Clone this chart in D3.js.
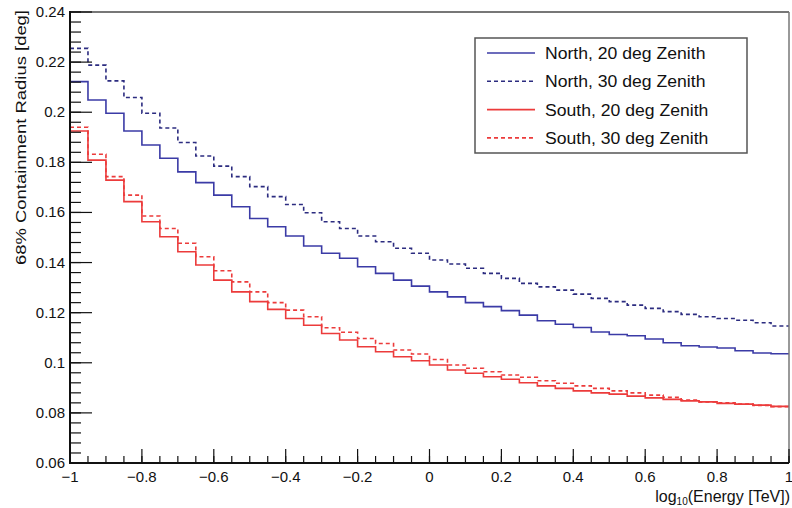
<!DOCTYPE html>
<html>
<head>
<meta charset="utf-8">
<script src="https://cdn.jsdelivr.net/npm/d3@7/dist/d3.min.js"></script>
<style>
  body { margin: 0; background: #fff; }
  text { font-family: "Liberation Sans", Arial, Helvetica, sans-serif; fill: #111; }
</style>
</head>
<body>
<div id="chart"></div>
<script>
const WIDTH = 792
const HEIGHT = 508
const MARGINS = {left: 70, right: 3, top: 12, bottom: 45}

// histogram bins: 40 bins of log10(E/TeV) from -1 to 1
const binLow = d3.range(40).map((i) => -1 + i * 0.05)
const binHigh = 1

const north20 = [0.2122, 0.2049, 0.1996, 0.1925, 0.1869, 0.1816, 0.1762, 0.1719, 0.1669, 0.1623,
                 0.1576, 0.1543, 0.1506, 0.1466, 0.1437, 0.1417, 0.1383, 0.1357, 0.1330, 0.1306,
                 0.1283, 0.1263, 0.1240, 0.1224, 0.1208, 0.1190, 0.1168, 0.1154, 0.1141, 0.1123,
                 0.1113, 0.1108, 0.1095, 0.1080, 0.1068, 0.1063, 0.1059, 0.1048, 0.1039, 0.1036]
const north30 = [0.2255, 0.2188, 0.2125, 0.2059, 0.1996, 0.1937, 0.1879, 0.1825, 0.1785, 0.1743,
                 0.1703, 0.1663, 0.1632, 0.1599, 0.1563, 0.1536, 0.1506, 0.1483, 0.1457, 0.1437,
                 0.1410, 0.1394, 0.1377, 0.1357, 0.1337, 0.1317, 0.1303, 0.1290, 0.1274, 0.1257,
                 0.1244, 0.1230, 0.1217, 0.1204, 0.1193, 0.1184, 0.1177, 0.1170, 0.1160, 0.1147]
const south20 = [0.1925, 0.1809, 0.1729, 0.1643, 0.1563, 0.1503, 0.1443, 0.1390, 0.1330, 0.1283,
                 0.1244, 0.1213, 0.1177, 0.1150, 0.1117, 0.1091, 0.1064, 0.1044, 0.1024, 0.1008,
                 0.0991, 0.0971, 0.0958, 0.0944, 0.0934, 0.0920, 0.0908, 0.0898, 0.0888, 0.0880,
                 0.0875, 0.0867, 0.0860, 0.0854, 0.0848, 0.0844, 0.0838, 0.0835, 0.0831, 0.0826]
const south30 = [0.1940, 0.1832, 0.1743, 0.1669, 0.1586, 0.1536, 0.1477, 0.1423, 0.1367, 0.1323,
                 0.1283, 0.1240, 0.1210, 0.1184, 0.1140, 0.1122, 0.1097, 0.1077, 0.1051, 0.1035,
                 0.1013, 0.0991, 0.0978, 0.0964, 0.0951, 0.0942, 0.0928, 0.0918, 0.0908, 0.0898,
                 0.0888, 0.0880, 0.0871, 0.0862, 0.0851, 0.0844, 0.0840, 0.0835, 0.0830, 0.0825]

const seriesNames = ["North, 20 deg Zenith", "North, 30 deg Zenith", "South, 20 deg Zenith", "South, 30 deg Zenith"]
const seriesColors = ["#3b3ba6", "#2c2c80", "#ec3b3b", "#ec3b3b"]
const seriesDash = [null, "4,3", null, "4,3"]

const xTicks = [-1, -0.8, -0.6, -0.4, -0.2, 0, 0.2, 0.4, 0.6, 0.8, 1]
const yTicks = [0.06, 0.08, 0.1, 0.12, 0.14, 0.16, 0.18, 0.2, 0.22, 0.24]
const yTitle = "68% Containment Radius [deg]"

/*********************************************
// Scales
*********************************************/
const x = d3.scaleLinear().domain([-1, 1]).range([MARGINS.left, WIDTH - MARGINS.right])
const y = d3.scaleLinear().domain([0.06, 0.24]).range([HEIGHT - MARGINS.bottom, MARGINS.top])
const fmt = d3.format("~g")

const svg = d3.select("#chart")
  .append("svg")
  .attr("width", WIDTH)
  .attr("height", HEIGHT)

svg.append("rect").attr("width", WIDTH).attr("height", HEIGHT).attr("fill", "#fff")

/*********************************************
// Histograms
*********************************************/
function drawHist(values, i) {
  const pts = binLow.map((lo, k) => [lo, values[k]])
  pts.push([binHigh, values[values.length - 1]])
  const line = d3.line()
    .x((d) => x(d[0]))
    .y((d) => y(d[1]))
    .curve(d3.curveStepAfter)
  svg.append("path")
    .attr("d", line(pts))
    .attr("fill", "none")
    .attr("stroke", seriesColors[i])
    .attr("stroke-width", 1.6)
    .attr("stroke-dasharray", seriesDash[i])
}

;[north20, north30, south20, south30].forEach(drawHist)

/*********************************************
// Frame and axes (ROOT style, ticks inside)
*********************************************/
const x0 = x(-1), x1 = x(1), y0 = y(0.06), y1 = y(0.24)

svg.append("line").attr("x1", x0).attr("x2", x1).attr("y1", y1).attr("y2", y1)
  .attr("stroke", "#777").attr("stroke-width", 2)
svg.append("line").attr("x1", x1).attr("x2", x1).attr("y1", y1).attr("y2", y0)
  .attr("stroke", "#777").attr("stroke-width", 1.5)

const axes = svg.append("g").attr("stroke", "#111")

// y ticks
const yMinor = d3.range(0, 46).map((i) => 0.06 + i * 0.004)
axes.selectAll("line.ymin")
  .data(yMinor).enter()
  .append("line")
  .attr("x1", x0).attr("x2", x0 + 11)
  .attr("y1", y).attr("y2", y)
  .attr("stroke-width", 1.2)
axes.selectAll("line.ymaj")
  .data(yTicks).enter()
  .append("line")
  .attr("x1", x0).attr("x2", x0 + 22)
  .attr("y1", y).attr("y2", y)
  .attr("stroke-width", 1.2)

// x ticks
const xMinor = d3.range(0, 41).map((i) => -1 + i * 0.05)
axes.selectAll("line.xmin")
  .data(xMinor).enter()
  .append("line")
  .attr("x1", x).attr("x2", x)
  .attr("y1", y0).attr("y2", y0 - 7)
  .attr("stroke-width", 1.2)
axes.selectAll("line.xmaj")
  .data(xTicks).enter()
  .append("line")
  .attr("x1", x).attr("x2", x)
  .attr("y1", y0).attr("y2", y0 - 14)
  .attr("stroke-width", 1.2)

axes.append("line").attr("x1", x0).attr("x2", x0).attr("y1", y1 - 1).attr("y2", y0 + 1).attr("stroke-width", 2)
axes.append("line").attr("x1", x0 - 1).attr("x2", x1).attr("y1", y0).attr("y2", y0).attr("stroke-width", 2)

// tick labels
svg.selectAll("text.ylab")
  .data(yTicks).enter()
  .append("text")
  .attr("x", x0 - 5)
  .attr("y", (d) => y(d) + 5)
  .attr("text-anchor", "end")
  .attr("font-size", 15)
  .text(fmt)

svg.selectAll("text.xlab")
  .data(xTicks).enter()
  .append("text")
  .attr("x", x)
  .attr("y", y0 + 19)
  .attr("text-anchor", "middle")
  .attr("font-size", 15)
  .text(fmt)

// titles
svg.append("text")
  .attr("transform", `translate(26,${y1 - 2}) rotate(-90)`)
  .attr("text-anchor", "end")
  .attr("font-size", 15)
  .attr("textLength", 255)
  .attr("lengthAdjust", "spacingAndGlyphs")
  .text(yTitle)

const xt = svg.append("text")
  .attr("x", WIDTH - 2)
  .attr("y", HEIGHT - 6)
  .attr("text-anchor", "end")
  .attr("font-size", 16)
xt.append("tspan").text("log")
xt.append("tspan").attr("font-size", 10).attr("dy", 3).text("10")
xt.append("tspan").attr("dy", -3).text("(Energy [TeV])")

/*********************************************
// Legend
*********************************************/
const legend = svg.append("g").attr("transform", "translate(475,38)")
legend.append("rect")
  .attr("width", 272).attr("height", 115)
  .attr("fill", "#fff")
  .attr("stroke", "#555")
  .attr("stroke-width", 1.5)

const rows = legend.selectAll("g.row")
  .data(seriesNames).enter()
  .append("g")
  .attr("transform", (_, i) => `translate(0,${15 + i * 28.3})`)
rows.append("line")
  .attr("x1", 12).attr("x2", 60)
  .attr("y1", 0).attr("y2", 0)
  .attr("stroke", (_, i) => seriesColors[i])
  .attr("stroke-width", 1.6)
  .attr("stroke-dasharray", (_, i) => seriesDash[i])
rows.append("text")
  .attr("x", 70)
  .attr("y", 6)
  .attr("font-size", 16)
  .text((d) => d)
  .each(function() {
    const w = this.getComputedTextLength()
    d3.select(this).attr("textLength", w * 1.1).attr("lengthAdjust", "spacingAndGlyphs")
  })
</script>
</body>
</html>
